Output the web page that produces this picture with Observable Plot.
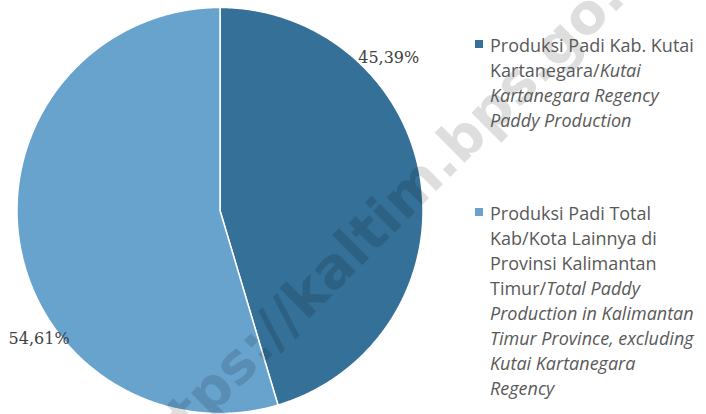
<!DOCTYPE html>
<html><head><meta charset="utf-8">
<script src="https://cdn.jsdelivr.net/npm/d3@7"></script>
<script src="https://cdn.jsdelivr.net/npm/@observablehq/plot@0.6"></script>
<style>
body{margin:0;background:#fff}
#wrap{position:relative;width:706px;height:414px;overflow:hidden}
#wrap svg{position:absolute;left:0;top:0}
.legend{position:absolute;left:475px;font-family:"Open Sans",sans-serif;font-size:18px;color:#595959;line-height:25px}
.legend .sw{position:absolute;left:0;top:7px;width:8px;height:8px}
.legend .tx{margin-left:15px;white-space:nowrap}
.legend i{font-style:italic}
</style></head><body><div id="wrap"></div><script>
// ---- data ----
const categories = ["Produksi Padi Kab. Kutai Kartanegara", "Produksi Padi Total Kab/Kota Lainnya di Provinsi Kalimantan Timur"];
const shares = [45.39, 54.61];
const valueLabels = ["45,39%", "54,61%"];
const colors = ["#347098", "#68a3ce"];
const legendLines = [
  ["Produksi Padi Kab. Kutai", "Kartanegara/<i>Kutai</i>", "<i>Kartanegara Regency</i>", "<i>Paddy Production</i>"],
  ["Produksi Padi Total", "Kab/Kota Lainnya di", "Provinsi Kalimantan", "Timur/<i>Total Paddy</i>", "<i>Production in Kalimantan</i>", "<i>Timur Province, excluding</i>", "<i>Kutai Kartanegara</i>", "<i>Regency</i>"]
];
const watermark = "https://kaltim.bps.go.id";

// ---- geometry ----
const W = 706, H = 414, cx = 219.5, cy = 210, R = 203;
const arcs = d3.pie().sort(null).value(d => d)(shares);
const slices = arcs.map((a, i) => {
  const n = Math.max(2, Math.ceil((a.endAngle - a.startAngle) / 0.005));
  const pts = [{x: 0, y: 0}];
  for (let k = 0; k <= n; k++) {
    const t = a.startAngle + (a.endAngle - a.startAngle) * k / n;
    pts.push({x: Math.sin(t), y: Math.cos(t)});
  }
  return {pts, color: colors[i]};
});
const labelPlace = [{ang: 47.8, r: 1.122}, {ang: 234.7, r: 1.092}];
const labelData = valueLabels.map((t, i) => {
  const a = labelPlace[i].ang * Math.PI / 180;
  return {text: t, x: labelPlace[i].r * Math.sin(a), y: labelPlace[i].r * Math.cos(a)};
});

const plot = Plot.plot({
  width: W, height: H,
  marginTop: 0, marginBottom: 0, marginLeft: 0, marginRight: 0,
  x: {domain: [-cx / R, (W - cx) / R], axis: null},
  y: {domain: [-(H - cy) / R, cy / R], axis: null},
  style: {background: "transparent", overflow: "hidden"},
  marks: [
    ...slices.map(s => Plot.line(s.pts, {x: "x", y: "y", fill: s.color, stroke: "white", strokeWidth: 1.5, curve: "linear-closed"})),
    Plot.text(labelData, {x: "x", y: "y", text: "text", fontFamily: "DejaVu Serif", fontSize: 16, fill: "#404040"}),
    Plot.text([watermark], {x: () => (393 - cx) / R, y: () => (cy - 208) / R, text: d => d, rotate: -45, fontSize: 56, fontWeight: "bold", fontFamily: "DejaVu Sans", fill: "#000", fillOpacity: 0.13})
  ]
});
const wrap = document.getElementById("wrap");
wrap.appendChild(plot);

const legendTops = [33, 201];
legendLines.forEach((lines, i) => {
  const div = document.createElement("div");
  div.className = "legend";
  div.style.top = legendTops[i] + "px";
  div.innerHTML = `<span class="sw" style="background:${colors[i]}"></span>` +
    lines.map(l => `<div class="tx">${l}</div>`).join("");
  wrap.appendChild(div);
});
</script></body></html>
